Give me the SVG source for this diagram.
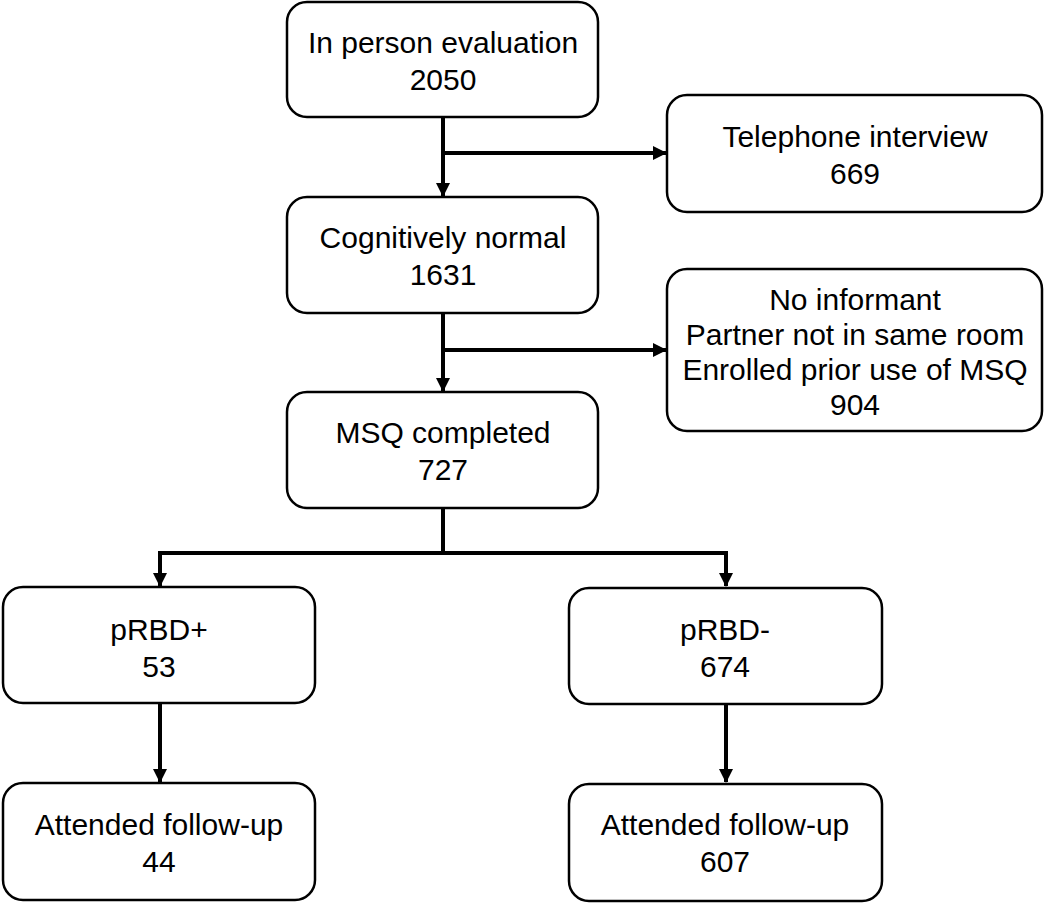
<svg xmlns="http://www.w3.org/2000/svg" width="1050" height="903" viewBox="0 0 1050 903">
<style>
.box{fill:#fff;stroke:#000;stroke-width:2.5}
.t{font-family:"Liberation Sans",Arial,sans-serif;font-size:30px;fill:#000;text-anchor:middle}
.c{fill:none;stroke:#000;stroke-width:4}
</style>
<defs>
<marker id="ah" markerWidth="14" markerHeight="14" refX="13" refY="7" orient="auto" markerUnits="userSpaceOnUse">
<path d="M0,0 L14,7 L0,14 Z" fill="#000"/>
</marker>
</defs>
<rect width="1050" height="903" fill="#fff"/>
<g id="connectors">
<path class="c" d="M443,117 V196" marker-end="url(#ah)"/>
<path class="c" d="M443,153 H666" marker-end="url(#ah)"/>
<path class="c" d="M443,313 V391" marker-end="url(#ah)"/>
<path class="c" d="M443,350 H666" marker-end="url(#ah)"/>
<path class="c" d="M443,508 V553"/>
<path class="c" d="M160,553 H726"/>
<path class="c" d="M160,551 V586" marker-end="url(#ah)"/>
<path class="c" d="M726,551 V586" marker-end="url(#ah)"/>
<path class="c" d="M160,703 V782" marker-end="url(#ah)"/>
<path class="c" d="M726,704 V782" marker-end="url(#ah)"/>
</g>
<g id="inperson">
<rect class="box" x="287" y="2" width="311" height="115" rx="20"/>
<text class="t" x="443" y="53">In person evaluation</text>
<text class="t" x="443" y="90">2050</text>
</g>
<g id="telephone">
<rect class="box" x="667" y="95" width="375" height="117" rx="20"/>
<text class="t" x="855" y="147">Telephone interview</text>
<text class="t" x="855" y="184">669</text>
</g>
<g id="cognitive">
<rect class="box" x="287" y="197" width="311" height="116" rx="20"/>
<text class="t" x="443" y="248">Cognitively normal</text>
<text class="t" x="443" y="285">1631</text>
</g>
<g id="excluded">
<rect class="box" x="667" y="269" width="375" height="162" rx="20"/>
<text class="t" x="855" y="310">No informant</text>
<text class="t" x="855" y="345">Partner not in same room</text>
<text class="t" x="855" y="380">Enrolled prior use of MSQ</text>
<text class="t" x="855" y="415">904</text>
</g>
<g id="msq">
<rect class="box" x="287" y="392" width="311" height="116" rx="20"/>
<text class="t" x="443" y="443">MSQ completed</text>
<text class="t" x="443" y="480">727</text>
</g>
<g id="prbdpos">
<rect class="box" x="3" y="587" width="312" height="116" rx="20"/>
<text class="t" x="159" y="640">pRBD+</text>
<text class="t" x="159" y="677">53</text>
</g>
<g id="prbdneg">
<rect class="box" x="569" y="588" width="313" height="116" rx="20"/>
<text class="t" x="725" y="640">pRBD-</text>
<text class="t" x="725" y="677">674</text>
</g>
<g id="followpos">
<rect class="box" x="3" y="783" width="312" height="117" rx="20"/>
<text class="t" x="159" y="835">Attended follow-up</text>
<text class="t" x="159" y="872">44</text>
</g>
<g id="followneg">
<rect class="box" x="569" y="784" width="313" height="117" rx="20"/>
<text class="t" x="725" y="835">Attended follow-up</text>
<text class="t" x="725" y="872">607</text>
</g>
</svg>
